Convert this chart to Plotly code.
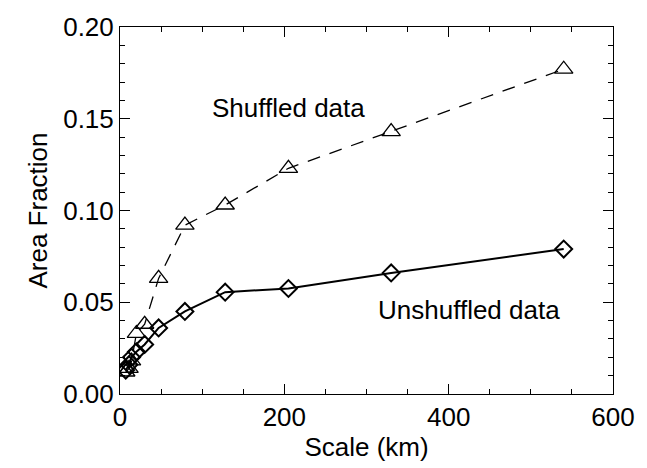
import plotly.graph_objects as go

scale_km = [7, 11, 14, 20, 30, 47, 79, 128, 205, 330, 540]
unshuffled = [0.013, 0.016, 0.020, 0.023, 0.027, 0.036, 0.045, 0.0555, 0.0575, 0.066, 0.079]
shuffled = [0.012, 0.014, 0.018, 0.033, 0.038, 0.063, 0.092, 0.103, 0.123, 0.143, 0.177]

x_ticks = [0, 200, 400, 600]
y_ticks = [0.00, 0.05, 0.10, 0.15, 0.20]

fig = go.Figure()
fig.add_trace(go.Scatter(
    x=scale_km, y=shuffled, mode="lines+markers",
    line=dict(color="black", width=1.3, dash="13px,10px"),
    marker=dict(symbol="triangle-up-open", size=16, color="black", line=dict(width=1.3)),
    showlegend=False))
fig.add_trace(go.Scatter(
    x=scale_km, y=unshuffled, mode="lines+markers",
    line=dict(color="black", width=2),
    marker=dict(symbol="diamond-open", size=13, color="black", line=dict(width=2)),
    showlegend=False))

font = dict(family="Liberation Sans, Arial, sans-serif", size=26, color="black")

fig.add_annotation(x=205, y=0.156, text="Shuffled data", showarrow=False, font=font, xref="x", yref="y")
fig.add_annotation(x=425, y=0.046, text="Unshuffled data", showarrow=False, font=font, xref="x", yref="y")

axis_common = dict(showgrid=False, zeroline=False, showline=True, linecolor="black", linewidth=1,
                   mirror="ticks", ticks="inside", tickcolor="black", tickwidth=1,
                   tickfont=font)

fig.update_xaxes(range=[0, 600], tickvals=x_ticks, ticklen=10,
                 title=dict(text="Scale (km)", font=font, standoff=6),
                 minor=dict(ticks="inside", dtick=50, ticklen=5, tickcolor="black", showgrid=False),
                 **axis_common)
fig.update_yaxes(range=[0, 0.20], tickvals=y_ticks, tickformat=".2f", ticklen=10,
                 title=dict(text="Area Fraction", font=font, standoff=8),
                 minor=dict(ticks="inside", dtick=0.01, ticklen=5, tickcolor="black", showgrid=False),
                 **axis_common)

fig.update_layout(width=647, height=468, margin=dict(l=120, r=27, t=17, b=73),
                  plot_bgcolor="white", paper_bgcolor="white", font=font)

fig.write_html("out.html")
